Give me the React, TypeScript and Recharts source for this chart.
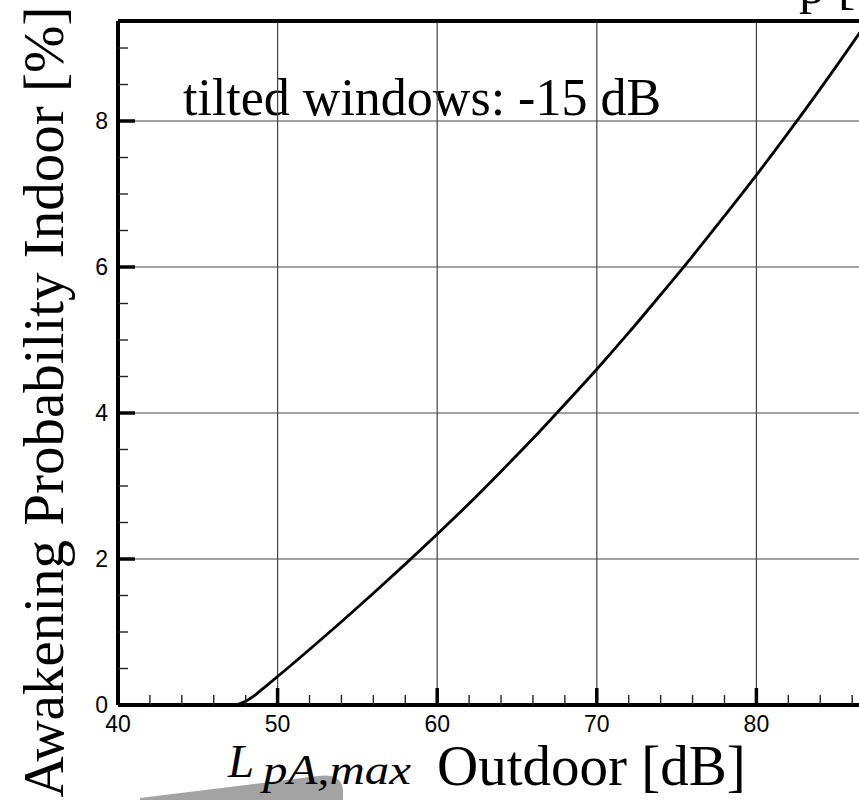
import React from "react";
import { LineChart, Line, XAxis, YAxis, ReferenceLine, Customized } from "recharts";

const outdoorLevel = [47, 47.5, 48, 48.5, 49, 50, 52, 54, 56, 58, 60, 62, 64, 66, 68, 70, 72, 74, 76, 78, 80, 82, 84, 86, 86.6];
const awakeningIndoor = [0, 0.01, 0.05, 0.12, 0.21, 0.39, 0.76, 1.14, 1.53, 1.93, 2.34, 2.76, 3.2, 3.65, 4.12, 4.6, 5.1, 5.62, 6.15, 6.7, 7.26, 7.84, 8.44, 9.06, 9.25];

const xMajorTicks = [40, 50, 60, 70, 80, 90];
const xAllTicks = [40, 42, 44, 46, 48, 50, 52, 54, 56, 58, 60, 62, 64, 66, 68, 70, 72, 74, 76, 78, 80, 82, 84, 86, 88, 90];
const yMajorTicks = [0, 2, 4, 6, 8];
const yAllTicks = [0, 0.5, 1, 1.5, 2, 2.5, 3, 3.5, 4, 4.5, 5, 5.5, 6, 6.5, 7, 7.5, 8, 8.5, 9];

const yTitle = "Awakening Probability Indoor [%]";
const insetText = "tilted windows: -15 dB";
const xTitleMain = "L";
const xTitleSub = "pA,max";
const xTitleRest = "Outdoor [dB]";
const topFragment = "p [";

const data = outdoorLevel.map((x, i) => ({ x, y: awakeningIndoor[i] }));

const SERIF = "'Liberation Serif', 'DejaVu Serif', serif";
const SANS = "'Liberation Sans', Arial, sans-serif";

const XTick = (props: any) => {
  const { x, y, payload } = props;
  const v = payload.value;
  const major = xMajorTicks.includes(v);
  return (
    <g>
      <line x1={x} x2={x} y1={y} y2={y - (major ? 17 : 10)} stroke={major ? "#000" : "#222"} strokeWidth={major ? 3.5 : 1.4} />
      {major && (
        <text x={x} y={y + 27} textAnchor="middle" fontFamily={SANS} fontSize={23} fill="#000">
          {v}
        </text>
      )}
    </g>
  );
};

const YTick = (props: any) => {
  const { x, y, payload } = props;
  const v = payload.value;
  const major = yMajorTicks.includes(v);
  return (
    <g>
      <line x1={x} x2={x + (major ? 17 : 10)} y1={y} y2={y} stroke={major ? "#000" : "#222"} strokeWidth={major ? 3.5 : 1.4} />
      {major && (
        <text x={x - 10} y={y + 8} textAnchor="end" fontFamily={SANS} fontSize={23} fill="#000">
          {v}
        </text>
      )}
    </g>
  );
};

const Overlay = () => (
  <g>
    <path d="M140,800 L140,798 L318,776 Q343,773 343,792 L343,800 Z" fill="#a3a3a3" />
    <text x={63} y={402} transform="rotate(-90, 63, 402)" textAnchor="middle" fontFamily={SERIF} fontSize={57} fill="#000">
      {yTitle}
    </text>
    <text x={183} y={115} fontFamily={SERIF} fontSize={52} fill="#000">
      {insetText}
    </text>
    <text x={228} y={777} fontFamily={SERIF} fontStyle="italic" fontSize={47} fill="#000">
      {xTitleMain}
    </text>
    <text x={263} y={784} fontFamily={SERIF} fontStyle="italic" fontSize={42} textLength={148} lengthAdjust="spacingAndGlyphs" fill="#000">
      {xTitleSub}
    </text>
    <text x={437} y={785} fontFamily={SERIF} fontSize={57} fill="#000">
      {xTitleRest}
    </text>
    <text x={799} y={3} fontFamily={SERIF} fontSize={52} fill="#000">
      {topFragment}
    </text>
  </g>
);

export default function App() {
  return (
    <div style={{ position: "absolute", left: 0, top: 0, width: 859, height: 800, overflow: "hidden", background: "#fff" }}>
      <LineChart width={940} height={800} data={data} margin={{ top: 21, right: 24, bottom: 65, left: 0 }}>
        {xMajorTicks.slice(1).map((v) => (
          <ReferenceLine key={"vx" + v} x={v} stroke="#444" strokeWidth={1.2} />
        ))}
        {yMajorTicks.slice(1).map((v) => (
          <ReferenceLine key={"hy" + v} y={v} stroke="#444" strokeWidth={1.2} />
        ))}
        <ReferenceLine y={9.37} stroke="#000" strokeWidth={4} />
        <XAxis
          dataKey="x"
          type="number"
          domain={[40, 90]}
          ticks={xAllTicks}
          interval={0}
          height={30}
          tickSize={0}
          tickMargin={0}
          tickLine={false}
          axisLine={{ stroke: "#000", strokeWidth: 4 }}
          tick={XTick}
          allowDataOverflow
        />
        <YAxis
          type="number"
          domain={[0, 9.37]}
          ticks={yAllTicks}
          interval={0}
          width={118}
          tickSize={0}
          tickMargin={0}
          tickLine={false}
          axisLine={{ stroke: "#000", strokeWidth: 4 }}
          tick={YTick}
          allowDataOverflow
        />
        <Line dataKey="y" type="monotone" stroke="#000" strokeWidth={2.8} dot={false} isAnimationActive={false} />
        <Customized component={Overlay} />
      </LineChart>
    </div>
  );
}
